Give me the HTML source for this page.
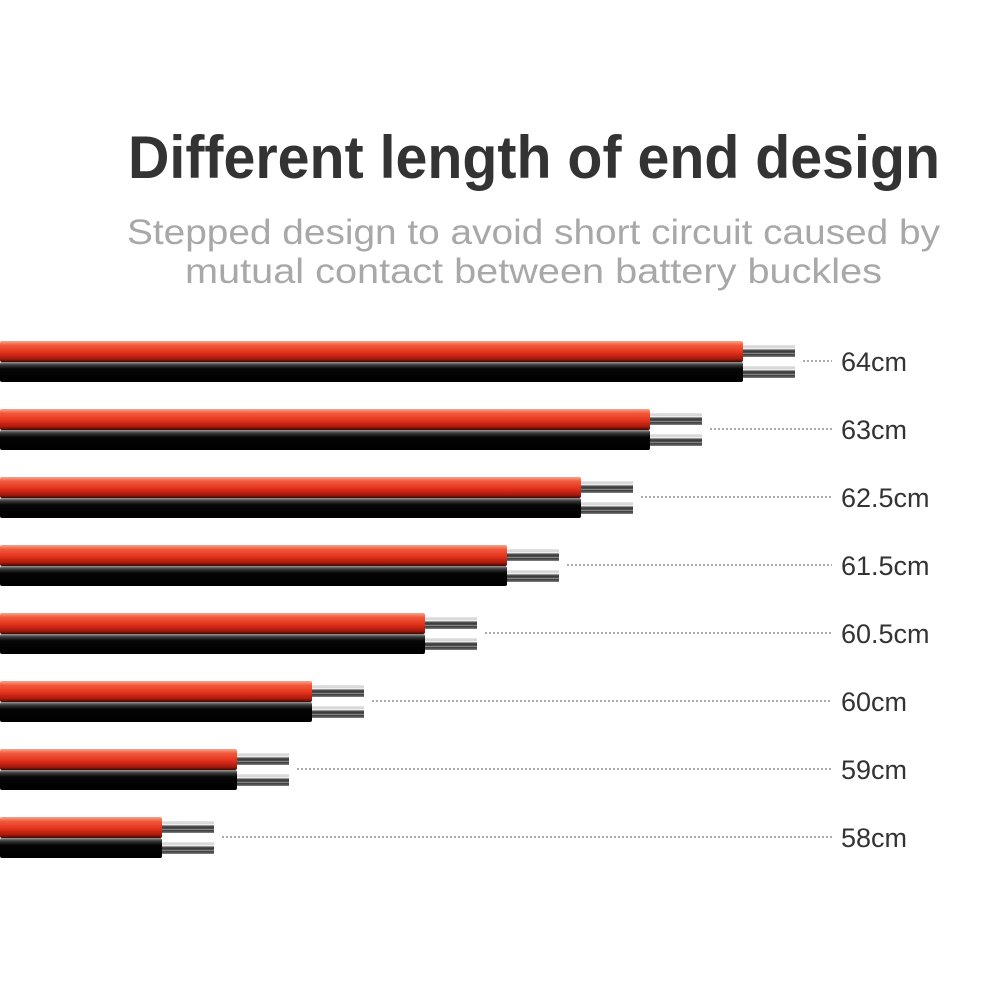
<!DOCTYPE html>
<html><head><meta charset="utf-8"><style>
html,body{margin:0;padding:0;background:#fff;}
svg{display:block;}
</style></head><body>
<svg id="s" width="1000" height="1000" xmlns="http://www.w3.org/2000/svg">
<defs>
<linearGradient id="red" x1="0" y1="0" x2="0" y2="1">
<stop offset="0" stop-color="#f6a58c"/><stop offset="0.2" stop-color="#f25a3c"/><stop offset="0.55" stop-color="#e3321c"/><stop offset="0.85" stop-color="#a8190c"/><stop offset="1" stop-color="#3a0a05"/>
</linearGradient>
<linearGradient id="blk" x1="0" y1="0" x2="0" y2="1">
<stop offset="0" stop-color="#9a9a9a"/><stop offset="0.15" stop-color="#3a3a3a"/><stop offset="0.35" stop-color="#050505"/><stop offset="1" stop-color="#000"/>
</linearGradient>
<linearGradient id="cu" x1="0" y1="0" x2="0" y2="1">
<stop offset="0" stop-color="#e8e8e8"/><stop offset="0.2" stop-color="#d0d0d0"/><stop offset="0.3" stop-color="#ffffff"/><stop offset="0.42" stop-color="#555"/><stop offset="0.6" stop-color="#333"/><stop offset="0.7" stop-color="#999"/><stop offset="0.8" stop-color="#333"/><stop offset="1" stop-color="#888"/>
</linearGradient>
</defs>
<text x="128" y="178" font-family="Liberation Sans, sans-serif" font-weight="bold" font-size="60" fill="#333" textLength="812" lengthAdjust="spacingAndGlyphs">Different length of end design</text>
<text x="127" y="244" font-family="Liberation Sans, sans-serif" font-size="35" fill="#a8a8a8" textLength="813" lengthAdjust="spacingAndGlyphs">Stepped design to avoid short circuit caused by</text>
<text x="185" y="283" font-family="Liberation Sans, sans-serif" font-size="35" fill="#a8a8a8" textLength="697" lengthAdjust="spacingAndGlyphs">mutual contact between battery buckles</text>
<g id="rows"></g>
</svg>
<script>
var ends=[743,650,581,507,425,312,237,162];
var labels=["64cm","63cm","62.5cm","61.5cm","60.5cm","60cm","59cm","58cm"];
var g=document.getElementById('rows'),h='';
for(var i=0;i<8;i++){
 var t=341+68*i,e=ends[i];
 h+='<rect x="'+e+'" y="'+(t+4)+'" width="52" height="12" fill="url(#cu)"/>';
 h+='<rect x="'+e+'" y="'+(t+25)+'" width="52" height="12" fill="url(#cu)"/>';
 h+='<rect x="0" y="'+t+'" width="'+e+'" height="21" rx="2" fill="url(#red)"/>';
 h+='<rect x="0" y="'+(t+21)+'" width="'+e+'" height="20" rx="2" fill="url(#blk)"/>';
 h+='<line x1="'+(e+60)+'" y1="'+(t+20)+'" x2="832" y2="'+(t+20)+'" stroke="#777" stroke-width="1.3" stroke-dasharray="2,2"/>';
 h+='<text x="841" y="'+(t+30)+'" font-family="Liberation Sans, sans-serif" font-size="27" fill="#333">'+labels[i]+'</text>';
}
g.innerHTML=h;
</script>
</body></html>
